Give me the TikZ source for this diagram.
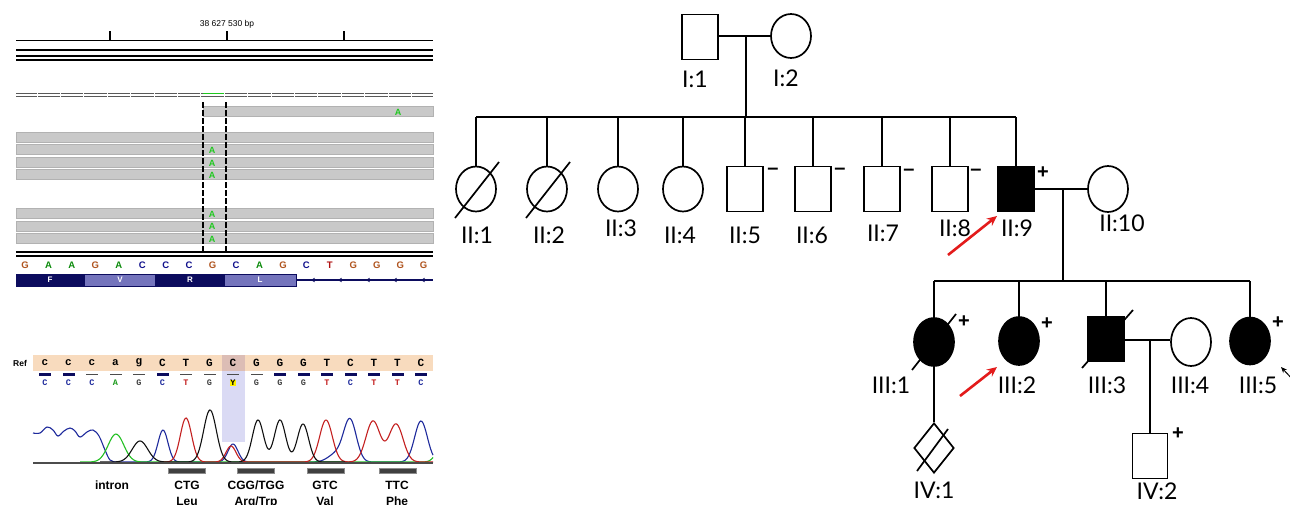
\documentclass[tikz,border=0pt]{standalone}
\usepackage{fontspec}
\usetikzlibrary{shapes.geometric,arrows.meta}
\newfontfamily\pedf{Lato}
\newfontfamily\arf{Liberation Sans}
\newfontfamily\monof{Liberation Mono}
\definecolor{igvG}{HTML}{B0541E}
\definecolor{igvA}{HTML}{0A8A0A}
\definecolor{igvC}{HTML}{10108C}
\definecolor{igvT}{HTML}{B01010}
\definecolor{greenA}{HTML}{1EC81E}
\definecolor{readgray}{HTML}{C9C9C9}
\definecolor{aadark}{HTML}{0C0C5E}
\definecolor{aalight}{HTML}{7474BC}
\definecolor{refbg}{HTML}{F8DBBE}
\definecolor{refhl}{HTML}{DCBDB5}
\definecolor{lav}{HTML}{DADAF4}
\definecolor{chB}{HTML}{1E2A9C}
\definecolor{chR}{HTML}{C42020}
\definecolor{chG}{HTML}{22C022}
\definecolor{chK}{HTML}{111111}
\definecolor{redarrow}{HTML}{E31B1B}
\newcommand{\gpk}[3]{#2*exp(-min(((\x-#1)/#3)^2,20))}
\begin{document}
\begin{tikzpicture}[x=1pt,y=-1pt,
  pl/.style={line width=1.7pt},
  male/.style={draw,line width=1.7pt,rectangle,minimum width=36pt,minimum height=45pt,inner sep=0pt},
  fem/.style={draw,line width=1.7pt,ellipse,minimum width=40pt,minimum height=45pt,inner sep=0pt},
  femb/.style={fem,minimum height=48pt},
  unk/.style={draw,line width=1.7pt,diamond,minimum width=40pt,minimum height=50pt,inner sep=0pt},
  aff/.style={fill=black},
  lab/.style={font=\pedf\fontsize{23}{23}\selectfont,inner sep=0pt},
  sgn/.style={font=\arf\bfseries\fontsize{20}{20}\selectfont,inner sep=0pt},
  redarr/.style={draw=redarrow,line width=2.6pt,-{Stealth[length=10pt,width=9pt]}},
  seq/.style={font=\arf\bfseries\fontsize{9.5}{9.5}\selectfont,inner sep=0pt},
  rda/.style={font=\arf\bfseries\fontsize{9}{9}\selectfont,inner sep=0pt,text=greenA},
  readbar/.style={fill=readgray,draw=gray!60,line width=0.6pt},
  reflet/.style={font=\monof\bfseries\fontsize{11}{11}\selectfont,inner sep=0pt},
  cbase/.style={font=\monof\bfseries\fontsize{8.5}{8.5}\selectfont,inner sep=0.6pt},
  cbC/.style={cbase,text=chB}, cbA/.style={cbase,text=chG!80!black},
  cbG/.style={cbase,text=black!75}, cbT/.style={cbase,text=chR},
  cbY/.style={cbase,text=black,fill=yellow},
  codlab/.style={font=\arf\bfseries\fontsize{12}{12}\selectfont,inner sep=0pt},
  trace/.style={line width=1.1pt}
]
\useasboundingbox (0,0) rectangle (1290,504);
\clip (0,0) rectangle (1290,504);
\fill[white] (0,0) rectangle (1290,504);

% ================= IGV panel =================
\node[font=\arf\fontsize{8.5}{8.5}\selectfont,inner sep=0pt] (bp) at (227,24) {38 627 530 bp};
\draw[line width=1pt] (16,40) -- (433,40);
\foreach \t in {110,227,344} \draw[line width=1.3pt] (\t,31) -- (\t,40);
\draw[line width=2.6pt] (16,50) -- (433,50);
\draw[line width=1.1pt] (16,56) -- (433,56);
\draw[line width=1.5pt] (16,60) -- (433,60);
\draw[line width=1pt,black!65] (16,93.3) -- (433,93.3);
\draw[line width=1pt,black!65] (16,96.7) -- (433,96.7);
\foreach \k in {1,...,17} \draw[white,line width=1pt] ({13.7+23.4*\k},92) -- ({13.7+23.4*\k},98);
\draw[line width=1.3pt,greenA] (203,93.3) -- (224,93.3);

\draw[readbar] (203,106) rectangle (433,116);
\node[rda] (a0) at (398,112) {A};
\foreach \y in {132,144,157,169,208,221,233} \draw[readbar] (16,\y) rectangle (433,\y+10.5);
\foreach \y in {150,163,175,214,226,239} \node[rda] at (212,\y) {A};
\draw[line width=1.3pt,dash pattern=on 6pt off 2pt] (203,102) -- (203,251);
\draw[line width=1.3pt,dash pattern=on 6pt off 2pt] (226,102) -- (226,251);
\draw[line width=1.5pt] (16,252) -- (433,252);
\draw[line width=1.5pt] (16,256) -- (433,256);
\foreach \b [count=\i from 0] in {G,A,A,G,A,C,C,C,G,C,A,G,C,T,G,G,G,G}
  \node[seq,text=igv\b] at ({25+23.45*\i},265) {\b};
\fill[aadark] (16,274) rectangle (85,286);
\fill[aalight] (85,274) rectangle (155,286);
\fill[aadark] (155,274) rectangle (225,286);
\fill[aalight] (225,274) rectangle (296,286);
\draw[aadark,line width=0.5pt] (16,274) rectangle (296,286);
\foreach \x/\l in {50/F,120/V,190/R,260/L} \node[font=\arf\bfseries\fontsize{8}{8}\selectfont,text=white,inner sep=0pt] at (\x,280) {\l};
\draw[aadark,line width=1.1pt] (296,280) -- (433,280);
\foreach \x in {311,338,366,393,421} \fill[aadark] (\x,280) -- ++(3.5,-2.2) -- ++(0,4.4) -- cycle;

% ================= Chromatogram panel =================
\node[font=\arf\bfseries\fontsize{8.5}{8.5}\selectfont,inner sep=0pt] (ref) at (20,363) {Ref};
\fill[refbg] (33,355) rectangle (433,371);
\fill[refhl] (222,355) rectangle (245,371);
\fill[lav] (222,371) rectangle (245,442);
\foreach \b [count=\i from 0] in {c,c,c,a,g,C,T,G,C,G,G,G,T,C,T,T,C}
  \node[reflet] at ({45+23.5*\i},363) {\b};
\foreach \q [count=\i from 0] in {1,1,0,0,0,1,0,0,0,0,1,1,1,1,1,1,1}{
  \ifnum\q=1 \fill[aadark] ({39+23.5*\i},373) rectangle ++(12,3);
  \else \fill[black!70] ({39+23.5*\i},374) rectangle ++(12,1.2); \fi}
\foreach \b [count=\i from 0] in {C,C,C,A,G,C,T,G,Y,G,G,G,T,C,T,T,C}
  \node[cb\b] at ({45+23.5*\i},383) {\b};

% traces
\draw[trace,chB] plot[smooth,tension=0.6] coordinates {(33,433) (40,433) (47,427) (53,430) (58,436) (64,431) (70,428) (75,431) (80,437) (87,432) (93,430) (99,436) (105,450) (110,460) (116,462)};
\draw[trace,chB] plot[domain=116:433,samples=260] (\x,{462-\gpk{163}{32}{7}-\gpk{233}{18}{7}-\gpk{336}{8}{11}-\gpk{350}{42}{9}-\gpk{421}{41}{9}});
\draw[trace,chG] plot[domain=80:433,samples=200] (\x,{462-\gpk{116}{28}{11}-\gpk{442}{16}{8}});
\draw[trace,chR] plot[domain=160:433,samples=260] (\x,{462-\gpk{186}{44}{8}-\gpk{231}{16}{7}-\gpk{326}{42}{9}-\gpk{373}{41}{10}-\gpk{396}{38}{10}});
\draw[trace,chK] plot[domain=100:345,samples=260] (\x,{462-\gpk{140}{21}{11}-\gpk{210}{52}{9}-\gpk{258}{42}{8}-\gpk{280}{42}{8}-\gpk{303}{38}{8}});
\draw[line width=2pt,black!70] (33,462.5) -- (433,462.5);

\foreach \x in {168,237,307,379} {\fill[black!75] (\x,468) rectangle ++(37,5); \draw[black!45,line width=0.5pt] (\x,468) rectangle ++(37,5);}
\node[codlab] (c0) at (112,485) {intron};
\node[codlab] (c1) at (187,485) {CTG};
\node[codlab] (c2) at (256,485) {CGG/TGG};
\node[codlab] (c3) at (325,485) {GTC};
\node[codlab] (c4) at (397,485) {TTC};
\node[codlab,anchor=north] (d1) at (187,497) {Leu};
\node[codlab,anchor=north] (d2) at (256,497) {Arg/Trp};
\node[codlab,anchor=north] (d3) at (325,497) {Val};
\node[codlab,anchor=north] (d4) at (397,497) {Phe};

% ================= Pedigree =================
% Generation I
\node[male] (I1) at (700,37) {};
\node[fem,minimum height=44pt] (I2) at (791,36) {};
\draw[pl] (I1.east |- 0,36) -- (I2.west);
\coordinate (m1) at (746,36);
\coordinate (s1) at (746,117);
\draw[pl] (m1) -- (s1);
\node[lab] (lI1) at (695,79) {I:1};
\node[lab] (lI2) at (786,78) {I:2};

% Generation II
\node[fem] (II1) at (476,189) {};
\node[fem] (II2) at (547,189) {};
\node[fem] (II3) at (618,189) {};
\node[fem] (II4) at (683,189) {};
\node[male] (II5) at (745,189) {};
\node[male] (II6) at (813,189) {};
\node[male] (II7) at (882,189) {};
\node[male] (II8) at (950,189) {};
\node[male,aff] (II9) at (1016,189) {};
\node[fem,minimum height=46pt] (II10) at (1108,189) {};
\draw[pl] (II1.north |- s1) -- (II9.north |- s1);
\foreach \n in {II1,II2,II3,II4,II5,II6,II7,II8,II9} \draw[pl] (\n.north |- s1) -- (\n.north);
\draw[pl] ([shift={(-21,29)}]II1.center) -- ([shift={(23,-27)}]II1.center);
\draw[pl] ([shift={(-21,29)}]II2.center) -- ([shift={(23,-27)}]II2.center);
\draw[pl] (II9.east) -- (II10.west);
\coordinate (m2) at (1063,189);
\coordinate (s2) at (1063,281);
\draw[pl] (m2) -- (s2);

\node[lab] (lII1) at (477,235) {II:1};
\node[lab] (lII2) at (549,235) {II:2};
\node[lab] (lII3) at (621,228) {II:3};
\node[lab] (lII4) at (680,235) {II:4};
\node[lab] (lII5) at (745,235) {II:5};
\node[lab] (lII6) at (812,235) {II:6};
\node[lab] (lII7) at (883,233) {II:7};
\node[lab] (lII8) at (955,228) {II:8};
\node[lab] (lII9) at (1017,228) {II:9};
\node[lab] (lII10) at (1122,223) {II:10};

\node[sgn] (sg5) at (773,171) {–};
\node[sgn] (sg6) at (840,171) {–};
\node[sgn] (sg7) at (909,172) {–};
\node[sgn] (sg8) at (976,172) {–};
\node[sgn] (sg9) at (1043,173) {+};

\coordinate (ra1s) at (948,255);
\coordinate (ra1e) at (997,216);
\draw[redarr] (ra1s) -- (ra1e);

% Generation III
\node[femb,aff] (III1) at (934,342) {};
\node[femb,aff] (III2) at (1019,341) {};
\node[male,aff] (III3) at (1106,339) {};
\node[femb] (III4) at (1191,342) {};
\node[femb,minimum height=47pt,aff] (III5) at (1250,341) {};
\draw[pl] (III1.north |- s2) -- (III5.north |- s2);
\foreach \n in {III1,III2,III3,III5} \draw[pl] (\n.north |- s2) -- (\n.north);
\draw[pl] ([shift={(-22,28)}]III1.center) -- ([shift={(22,-28)}]III1.center);
\draw[pl] ([shift={(-24,29)}]III3.center) -- ([shift={(27,-29)}]III3.center);
\draw[pl] (III3.east |- 0,340) -- (III4.west |- 0,340);
\coordinate (m3) at (1150,340);

\node[lab] (lIII1) at (891,385) {III:1};
\node[lab] (lIII2) at (1017,385) {III:2};
\node[lab] (lIII3) at (1107,385) {III:3};
\node[lab] (lIII4) at (1190,385) {III:4};
\node[lab] (lIII5) at (1258,385) {III:5};

\node[sgn] (sgIII1) at (964,322) {+};
\node[sgn] (sgIII2) at (1047,324) {+};
\node[sgn] (sgIII5) at (1278,323) {+};

\coordinate (ra2s) at (960,396);
\coordinate (ra2e) at (997,367);
\draw[redarr] (ra2s) -- (ra2e);
\coordinate (ba1s) at (1296,383);
\coordinate (ba1e) at (1281,367);
\draw[line width=1pt,-{Stealth[length=6pt,width=5pt]}] (ba1s) -- (ba1e);

% Generation IV
\node[unk] (IV1) at (934,448) {};
\node[male,minimum width=35pt] (IV2) at (1150,456) {};
\draw[pl] (III1.south) -- (IV1.north);
\draw[pl] (m3) -- (IV2.north);
\draw[pl] ([shift={(-17,23)}]IV1.center) -- ([shift={(14,-19)}]IV1.center);
\node[sgn] (sgIV2) at (1178,434) {+};
\node[lab,anchor=north] (lIV1) at (934,482) {IV:1};
\node[lab,anchor=north] (lIV2) at (1157,483) {IV:2};
\end{tikzpicture}
\end{document}
